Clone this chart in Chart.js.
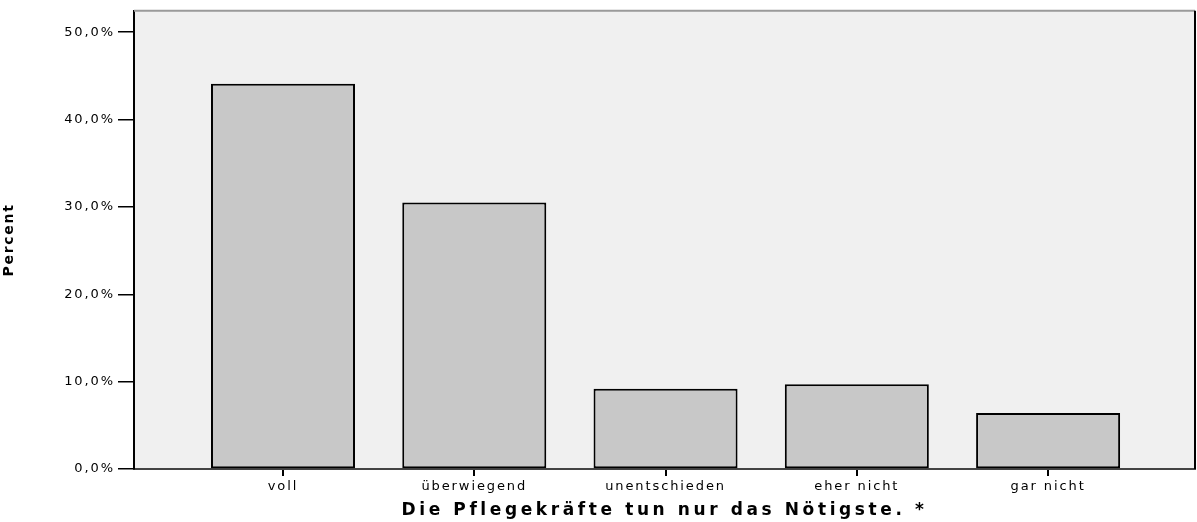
<!DOCTYPE html>
<html>
<head>
<meta charset="utf-8">
<script src="https://cdn.jsdelivr.net/npm/chart.js@4/dist/chart.umd.min.js"></script>
<style>
  html, body { margin: 0; padding: 0; background: #fff; }
  #wrap { width: 1197px; height: 522px; }
</style>
</head>
<body>
<div id="wrap"><canvas id="chart"></canvas></div>
<script>
const categories = ['voll', 'überwiegend', 'unentschieden', 'eher nicht', 'gar nicht'];
const percent = [44.1, 30.5, 9.2, 9.7, 6.4];
const yTicks = [0, 10, 20, 30, 40, 50];
const xTitle = 'Die Pflegekräfte tun nur das Nötigste. *';
const yTitle = 'Percent';

// the SPSS picture is stretched wide, so the letters get some extra spacing
const labelSpacing = { x: '1.9px', y: '1.9px' };
const titleSpacing = { x: '3.6px', y: '1.7px' };

const LinearScale = Chart.registry.getScale('linear');
const baseDrawLabels = LinearScale.prototype.drawLabels;
const baseDrawTitle = LinearScale.prototype.drawTitle;
LinearScale.prototype.drawLabels = function (area) {
  this.ctx.save();
  this.ctx.letterSpacing = labelSpacing[this.id] || '0px';
  baseDrawLabels.call(this, area);
  this.ctx.restore();
};
LinearScale.prototype.drawTitle = function () {
  this.ctx.save();
  this.ctx.letterSpacing = titleSpacing[this.id] || '0px';
  baseDrawTitle.call(this);
  this.ctx.restore();
};

// grey plot background plus the top / right frame lines
const plotFrame = {
  id: 'plotFrame',
  beforeDraw(chart) {
    const { ctx, chartArea: a } = chart;
    ctx.save();
    ctx.fillStyle = '#f0f0f0';
    ctx.fillRect(a.left, a.top, a.width, a.height);
    ctx.restore();
  },
  afterDraw(chart) {
    const { ctx, chartArea: a } = chart;
    ctx.save();
    ctx.lineWidth = 2;
    ctx.strokeStyle = '#9a9a9a';
    ctx.beginPath();
    ctx.moveTo(a.left, a.top);
    ctx.lineTo(a.right, a.top);
    ctx.stroke();
    ctx.strokeStyle = '#000';
    ctx.beginPath();
    ctx.moveTo(a.right, a.top);
    ctx.lineTo(a.right, a.bottom);
    ctx.stroke();
    ctx.restore();
  }
};

const tickFont = { family: 'DejaVu Sans', size: 13 };

new Chart(document.getElementById('chart'), {
  type: 'bar',
  data: {
    datasets: [{
      data: categories.map((c, i) => ({ x: i + 1, y: percent[i] })),
      backgroundColor: '#c8c8c8',
      borderColor: '#000',
      borderWidth: 2,
      borderSkipped: false,
      barPercentage: 0.753,
      categoryPercentage: 1
    }]
  },
  options: {
    responsive: true,
    maintainAspectRatio: false,
    animation: false,
    layout: { padding: { top: 8, right: 2, left: 0, bottom: 0 } },
    plugins: {
      legend: { display: false },
      tooltip: { enabled: false }
    },
    scales: {
      x: {
        type: 'linear',
        offset: false,
        min: 0.221,
        max: 5.768,
        afterBuildTicks: scale => { scale.ticks = categories.map((c, i) => ({ value: i + 1 })); },
        afterFit: scale => { scale.height = 53; },
        grid: { offset: false, drawOnChartArea: false, drawTicks: true, tickLength: 7, color: '#000', lineWidth: 2 },
        border: { color: '#444', width: 2 },
        ticks: {
          callback: v => categories[v - 1],
          color: '#000',
          font: tickFont,
          padding: 3,
          maxRotation: 0,
          autoSkip: false
        },
        title: {
          display: true,
          text: xTitle,
          color: '#000',
          font: { family: 'DejaVu Sans', size: 17, weight: 'bold' },
          padding: { top: 0, bottom: 1 }
        }
      },
      y: {
        min: 0,
        max: 52.45,
        afterBuildTicks: scale => { scale.ticks = yTicks.map(v => ({ value: v })); },
        afterFit: scale => { scale.width = 134; },
        grid: { drawOnChartArea: false, drawTicks: true, tickLength: 16, color: '#000', lineWidth: 1.5 },
        border: { color: '#000', width: 2 },
        ticks: {
          callback: v => v.toFixed(1).replace('.', ',') + '%',
          color: '#000',
          font: tickFont,
          padding: 3
        },
        title: {
          display: true,
          text: yTitle,
          color: '#000',
          font: { family: 'DejaVu Sans', size: 14, weight: 'bold' },
          padding: { top: 1, bottom: 0 }
        }
      }
    }
  },
  plugins: [plotFrame]
});
</script>
</body>
</html>
